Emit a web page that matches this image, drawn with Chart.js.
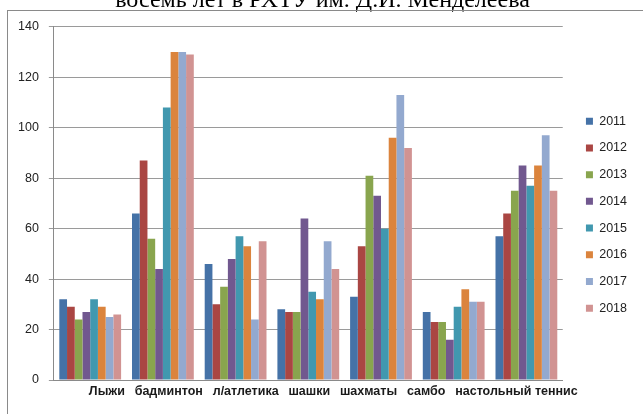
<!DOCTYPE html>
<html>
<head>
<meta charset="utf-8">
<script src="https://cdn.jsdelivr.net/npm/chart.js@4"></script>
<style>
  html, body { margin: 0; padding: 0; background: #fff; overflow: hidden; }
  body { width: 643px; height: 414px; position: relative; }
  #wrap { position: absolute; left: 0; top: -14px; width: 643px; height: 428px; }
  #frame { position: absolute; left: 7px; top: 10px; width: 700px; height: 500px;
           border-left: 1px solid #8a8a8a; border-top: 1px solid #8a8a8a; pointer-events: none; }
</style>
</head>
<body>
<div id="wrap"><canvas id="chart"></canvas></div>
<div id="frame"></div>
<script>
const title = 'восемь лет в РХТУ им. Д.И. Менделеева';
const categories = ['Лыжи', 'бадминтон', 'л/атлетика', 'шашки', 'шахматы', 'самбо', 'настольный теннис'];
const years = ['2011', '2012', '2013', '2014', '2015', '2016', '2017', '2018'];
const colors = ['#4572A7', '#AA4643', '#89A54E', '#71588F', '#4198AF', '#DB843D', '#93A9CF', '#D19392'];

const v2011 = [32, 66, 46, 28, 33, 27, 57];
const v2012 = [29, 87, 30, 27, 53, 23, 66];
const v2013 = [24, 56, 37, 27, 81, 23, 75];
const v2014 = [27, 44, 48, 64, 73, 16, 85];
const v2015 = [32, 108, 57, 35, 60, 29, 77];
const v2016 = [29, 130, 53, 32, 96, 36, 85];
const v2017 = [25, 130, 24, 55, 113, 31, 97];
const v2018 = [26, 129, 55, 44, 92, 31, 75];
const series = [v2011, v2012, v2013, v2014, v2015, v2016, v2017, v2018];

const yTicks = [0, 20, 40, 60, 80, 100, 120, 140];

// Excel packs the category names as one line under the axis
const categoryLine = {
  id: 'categoryLine',
  afterDraw(chart) {
    const { ctx, chartArea } = chart;
    ctx.save();
    ctx.font = 'bold 12.5px "Liberation Sans", Arial, sans-serif';
    ctx.fillStyle = '#1a1a1a';
    ctx.textBaseline = 'middle';
    ctx.textAlign = 'left';
    const gap = 9.8;
    const widths = categories.map((c) => ctx.measureText(c).width);
    const total = widths.reduce((a, b) => a + b, 0) + gap * (categories.length - 1);
    let x = (chartArea.left + chartArea.right) / 2 + 25 - total / 2;
    const y = chartArea.bottom + 12;
    categories.forEach((c, i) => {
      ctx.fillText(c, x, y);
      x += widths[i] + gap;
    });
    ctx.restore();
  },
};

new Chart(document.getElementById('chart'), {
  type: 'bar',
  data: {
    labels: categories,
    datasets: years.map((year, i) => ({
      label: year,
      data: series[i],
      backgroundColor: colors[i],
      borderWidth: 0,
      categoryPercentage: 0.85,
      barPercentage: 1,
    })),
  },
  options: {
    responsive: true,
    maintainAspectRatio: false,
    animation: false,
    layout: { padding: { left: 8, right: 6, top: 0, bottom: 26 } },
    plugins: {
      title: {
        display: true,
        text: title,
        color: '#000',
        font: { family: '"Liberation Serif", "Times New Roman", serif', size: 24, weight: 'normal' },
        padding: { top: 0, bottom: 12 },
      },
      legend: {
        position: 'right',
        align: 'center',
        title: { display: true, text: ' ', font: { size: 12 }, padding: { top: 41, bottom: 0 } },
        labels: {
          color: '#222',
          boxWidth: 7,
          boxHeight: 7,
          padding: 14.2,
          font: { family: '"Liberation Sans", Arial, sans-serif', size: 12.5 },
        },
      },
      tooltip: { enabled: false },
    },
    scales: {
      x: {
        grid: { display: false },
        border: { display: true, color: '#8a8a8a' },
        ticks: { display: false },
      },
      y: {
        min: 0,
        max: 140,
        afterBuildTicks: (scale) => {
          scale.ticks = yTicks.map((value) => ({ value }));
        },
        grid: { color: '#9a9a9a', tickLength: 5 },
        border: { display: true, color: '#8a8a8a' },
        ticks: {
          color: '#222',
          padding: 10,
          font: { family: '"Liberation Sans", Arial, sans-serif', size: 12.5 },
        },
      },
      gapRight: {
        position: 'right',
        display: true,
        grid: { display: false },
        border: { display: false },
        ticks: { display: false },
        afterFit: (scale) => { scale.width = 9; },
      },
    },
  },
  plugins: [categoryLine],
});
</script>
</body>
</html>
